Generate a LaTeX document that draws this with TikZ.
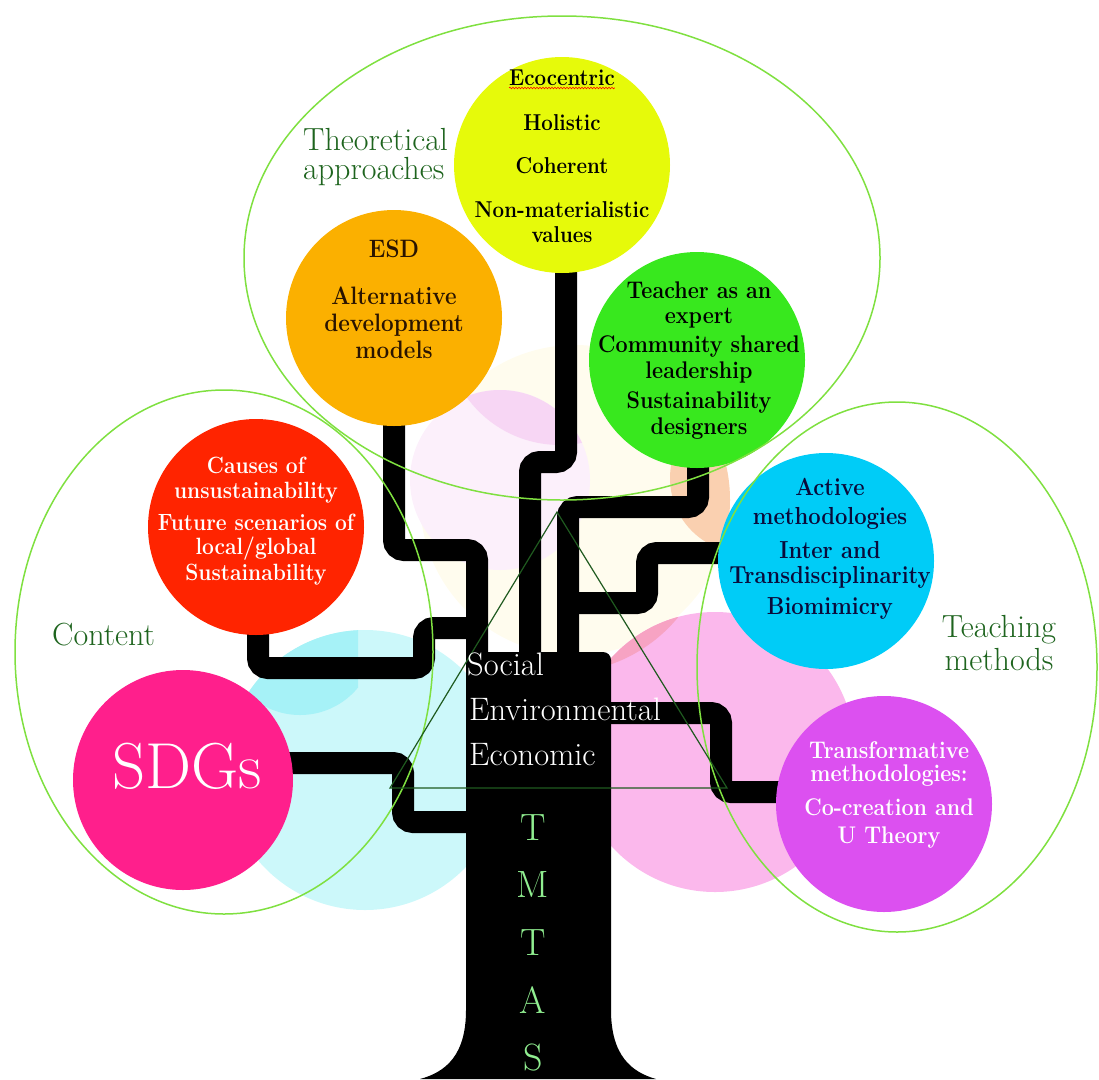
\documentclass[tikz,border=0pt]{standalone}
\usepackage{fontspec}
\usepackage{graphicx}
\usetikzlibrary{shapes.geometric,decorations.pathmorphing}
\pgfdeclarelayer{back}\pgfdeclarelayer{mid}\pgfsetlayers{back,mid,main}
\definecolor{yelc}{HTML}{E6FA0A}
\definecolor{orac}{HTML}{FBB000}
\definecolor{grnc}{HTML}{38E81E}
\definecolor{redc}{HTML}{FF2400}
\definecolor{sdgc}{HTML}{FF1F8C}
\definecolor{cyac}{HTML}{00CCF7}
\definecolor{vioc}{HTML}{DC50F0}
\definecolor{ellc}{HTML}{7FE040}
\definecolor{labc}{HTML}{1E641E}
\definecolor{tric}{HTML}{1F5A1F}
\definecolor{tmc}{HTML}{90EE90}
\definecolor{navy}{HTML}{0A0A3A}
\definecolor{brownc}{HTML}{2A1400}
\definecolor{creamc}{HTML}{FFFCEE}
\definecolor{lavc}{HTML}{FCF0FB}
\definecolor{lensc}{HTML}{F7D6F4}
\definecolor{peachc}{HTML}{FAD0B0}
\definecolor{lcyc}{HTML}{CCF8FA}
\definecolor{dcyc}{HTML}{A6F2F7}
\definecolor{pinkc}{HTML}{FBB8EC}
\definecolor{rlensc}{HTML}{F7A3C3}
\newcommand\ctn[5]{\node[ct,font=\fontsize{#5}{24}\selectfont\bfseries,text=#4] (#1) at (#2) {\scalebox{1}[1.12]{#3}};}
\begin{document}
\begin{tikzpicture}[x=1pt,y=-1pt,
  disc/.style={circle,inner sep=0pt,minimum size=216pt,draw=none},
  branch/.style={line width=22pt,black,rounded corners=10pt},
  ell/.style={ellipse,draw=ellc,line width=1.5pt,inner sep=0pt},
  ct/.style={anchor=base,inner sep=0pt},
  lab/.style={font=\fontsize{32}{33}\selectfont,text=labc,inner sep=0pt},
  tk/.style={font=\fontsize{32.5}{33}\selectfont,text=white,inner sep=0pt,anchor=base west},
  tm/.style={font=\fontsize{38}{40}\selectfont,text=tmc,inner sep=0pt,anchor=base}]
\useasboundingbox (0,0) rectangle (1099,1079);

% background faint circles
\begin{pgfonlayer}{back}
\fill[creamc] (575,500) circle (155pt);
\fill[lavc] (500,480) circle (90pt);
\begin{scope}
  \clip (500,480) circle (90pt);
  \fill[lensc] (560,330) circle (115pt);
\end{scope}
\begin{scope}
  \clip (575,500) circle (155pt);
  \fill[peachc] (745,478) circle (75pt);
\end{scope}
\fill[lcyc] (365,770) circle (140pt);
\begin{scope}
  \clip (365,770) circle (140pt);
  \clip (0,0) rectangle (358,1079);
  \fill[dcyc] (300,640) circle (75pt);
\end{scope}
\fill[pinkc] (715,752) circle (140pt);
\begin{scope}
  \clip (715,752) circle (140pt);
  \fill[rlensc] (560,520) circle (153pt);
\end{scope}
\end{pgfonlayer}

% coloured circles
\node[disc,fill=yelc] (yel) at (562,165) {};
\node[disc,fill=orac] (ora) at (394,318) {};
\node[disc,fill=grnc] (grn) at (697,360) {};
\node[disc,fill=redc] (red) at (256,527) {};
\node[disc,fill=sdgc,minimum size=220pt] (sdg) at (183,780) {};
\node[disc,fill=cyac] (cya) at (826,561) {};
\node[disc,fill=vioc] (vio) at (884,804) {};

% trunk anchor coordinates
\coordinate (tkA) at (477,670);
\coordinate (tkB) at (530,670);
\coordinate (tkC) at (568,670);
\coordinate (gj) at (568,603);
\coordinate (tkR) at (477,628);
\coordinate (tkS) at (480,822);
\coordinate (tkV) at (600,713);

\begin{pgfonlayer}{mid}
\draw[branch] (ora.center) -- (394,550) -- (477,550) -- (tkA);
\draw[branch] (yel.center -| 566,0) -- (566,462) -- (530,462) -- (tkB);
\draw[branch] (grn.center -| 698,0) -- (698,507) -- (568,507) -- (tkC);
\draw[branch] (cya.center |- 0,553) -- (647,553) -- (647,603) -- (gj);
\draw[branch] (red.center -| 258,0) -- (258,668) -- (424,668) -- (424,628) -- (tkR);
\draw[branch] (sdg.center |- 0,763) -- (403,763) -- (403,822) -- (tkS);
\draw[branch] (tkV) -- (721,713) -- (721,792) -- (vio.center |- 0,792);
\fill[black] (466,1010) .. controls (466,1055) and (446,1072) .. (420,1079)
  -- (656,1079) .. controls (631,1072) and (611,1055) .. (611,1010)
  [rounded corners=8pt] -- (611,652) [sharp corners] -- (466,652) -- cycle;
\end{pgfonlayer}

% group ellipses
\node[ell,minimum width=636pt,minimum height=484pt] (theo) at (562,258) {};
\node[ell,minimum width=418pt,minimum height=524pt] (cont) at (224,652) {};
\node[ell,minimum width=400pt,minimum height=530pt] (teach) at (897,667) {};

% triangle
\coordinate (ta) at (557,512);
\coordinate (tb) at (390,788);
\coordinate (tc) at (727,788);
\draw[tric,line width=1.2pt] (ta) -- (tb) -- (tc) -- cycle;

% yellow texts
\ctn{y1}{562,85}{Ecocentric}{black}{20.5}
\ctn{y2}{562,130}{Holistic}{black}{20.5}
\ctn{y3}{562,173}{Coherent}{black}{20.5}
\ctn{y4}{562,217}{Non-materialistic}{black}{20.5}
\ctn{y5}{562,242}{values}{black}{20.5}
\draw[red,line width=0.6pt,decorate,decoration={snake,amplitude=0.8pt,segment length=3pt}]
  ([yshift=-3pt]y1.base west) -- ([yshift=-3pt]y1.base east);

% orange texts
\ctn{o1}{394,257}{ESD}{brownc}{22.5}
\ctn{o2}{394,304}{Alternative}{brownc}{22.5}
\ctn{o3}{394,331}{development}{brownc}{22.5}
\ctn{o4}{394,358}{models}{brownc}{22.5}

% green texts
\ctn{g1}{699,298}{Teacher as an}{black}{21.5}
\ctn{g2}{699,323}{expert}{black}{21.5}
\ctn{g3}{699,352}{Community shared}{black}{21.5}
\ctn{g4}{699,378}{leadership}{black}{21.5}
\ctn{g5}{699,408}{Sustainability}{black}{21.5}
\ctn{g6}{699,434}{designers}{black}{21.5}

% red texts
\ctn{r1}{256,473}{Causes of}{white}{21}
\ctn{r2}{256,498}{unsustainability}{white}{21}
\ctn{r3}{256,530}{Future scenarios of}{white}{21}
\ctn{r4}{256,554}{local/global}{white}{21}
\ctn{r5}{256,580}{Sustainability}{white}{21}

% SDGs
\node[font=\fontsize{65}{66}\selectfont,text=white,anchor=base,inner sep=0pt] (s1) at (187,788) {SDGs};

% cyan texts
\ctn{c1}{830,495}{Active}{navy}{22}
\ctn{c2}{830,524}{methodologies}{navy}{22}
\ctn{c3}{830,558}{Inter and}{navy}{22}
\ctn{c4}{830,583}{Transdisciplinarity}{navy}{22}
\ctn{c5}{830,614}{Biomimicry}{navy}{22}

% violet texts
\ctn{v1}{889,758}{Transformative}{white}{21.5}
\ctn{v2}{889,781}{methodologies:}{white}{21.5}
\ctn{v3}{889,815}{Co-creation and}{white}{21.5}
\ctn{v4}{889,843}{U Theory}{white}{21.5}

% group labels
\node[lab,anchor=base west] (l1) at (303,150) {Theoretical};
\node[lab,anchor=base west] (l2) at (303,179) {approaches};
\node[lab,anchor=base west] (l3) at (52,645) {Content};
\node[lab,anchor=base] (l4) at (999,637) {Teaching};
\node[lab,anchor=base] (l5) at (999,670) {methods};

% trunk texts
\node[tk] (k1) at (467,675) {Social};
\node[tk] (k2) at (469,720) {Environmental};
\node[tk] (k3) at (469,765) {Economic};
\node[tm] (m1) at (533,840) {T};
\node[tm] (m2) at (533,897) {M};
\node[tm] (m3) at (533,955) {T};
\node[tm] (m4) at (533,1013) {A};
\node[tm] (m5) at (533,1070) {S};
\end{tikzpicture}
\end{document}
